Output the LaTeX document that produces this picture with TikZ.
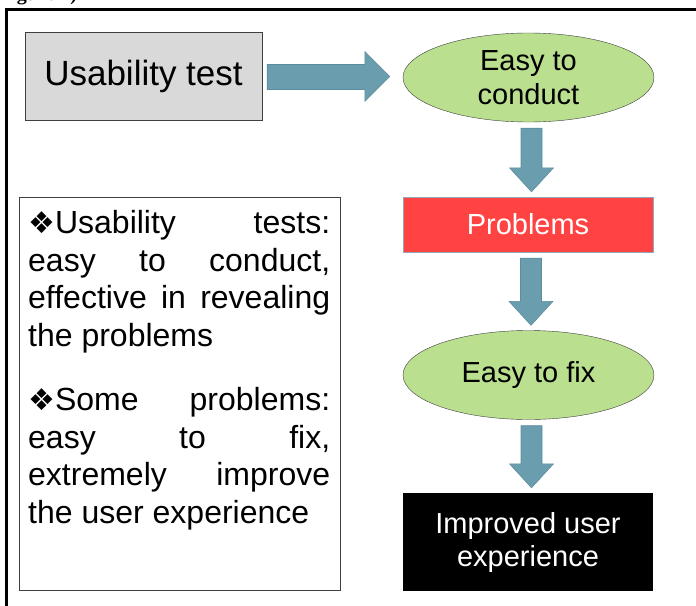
\documentclass[tikz,border=0pt]{standalone}
\usepackage{fontspec}
\setmainfont{Liberation Sans}
\newfontfamily\symfont{DejaVu Sans}
\newfontfamily\capfont{Liberation Serif}
\usepackage{tikz}
\usetikzlibrary{shapes.geometric,calc}
\hbadness=10000
\definecolor{arrowfill}{HTML}{6A9EAE}
\definecolor{arrowline}{HTML}{5B8D9D}
\definecolor{boxgray}{HTML}{D9D9D9}
\definecolor{ellgreen}{HTML}{B9DF8F}
\definecolor{probred}{HTML}{FF4242}
\definecolor{probedge}{HTML}{8EA9B8}
\definecolor{edge}{HTML}{3F3F3F}
\newcommand{\bull}{{\symfont\fontsize{30}{30}\selectfont ❖}}
\newcommand{\rightblock}[2]{%
  \path[blockarr] let \p1=(#1.east), \p2=(#2.west) in
    (\x1+5pt,\y1+11.5pt) -- (\x2-38pt,\y1+11.5pt) -- (\x2-38pt,\y1+24.5pt)
    -- (\x2-13pt,\y1-0.5pt) -- (\x2-38pt,\y1-25.5pt) -- (\x2-38pt,\y1-13.5pt)
    -- (\x1+5pt,\y1-13.5pt) -- cycle;}
\newcommand{\downblock}[2]{%
  \path[blockarr] let \p1=(#1.south), \p2=(#2.north) in
    (\x1-7.5pt,\y1-6pt) -- (\x1+13.5pt,\y1-6pt) -- (\x1+13.5pt,\y2+29pt)
    -- (\x1+25pt,\y2+29pt) -- (\x1+3pt,\y2+5pt) -- (\x1-19pt,\y2+29pt)
    -- (\x1-7.5pt,\y2+29pt) -- cycle;}
\tikzset{
  box/.style={draw=edge,fill=boxgray,minimum width=237pt,minimum height=88pt,
    inner sep=0pt,font=\fontsize{35}{40}\selectfont},
  ell/.style={ellipse,draw=edge,fill=ellgreen,minimum width=251pt,minimum height=89pt,
    inner sep=0pt,align=center,font=\fontsize{29}{33.5}\selectfont},
  probbox/.style={draw=probedge,fill=probred,text=white,minimum width=250pt,
    minimum height=55pt,inner sep=0pt,font=\fontsize{29}{33.5}\selectfont},
  darkbox/.style={fill=black,text=white,minimum width=250pt,minimum height=98pt,
    inner sep=0pt,align=center,font=\fontsize{29}{33}\selectfont},
  notebox/.style={draw=edge,minimum width=321pt,minimum height=393pt,inner sep=0pt},
  notetext/.style={text width=302pt,align=justify,inner sep=0pt,
    font=\fontsize{32}{37.5}\selectfont},
  figcap/.style={inner sep=0pt,font=\capfont\bfseries\fontsize{20}{24}\selectfont},
  blockarr/.style={fill=arrowfill,draw=arrowline,line width=0.6pt},
  frame/.style={draw=black,line width=2.6pt},
}
\begin{document}
\begin{tikzpicture}[x=1pt,y=1pt]
  \useasboundingbox (0,0) rectangle (696,-605);
  \begin{scope}
    \clip (0,0) rectangle (696,-605);
    \node[figcap,anchor=base west] (cap) at (-1,-1) {Figure 1)};
    \draw[frame] (6.5,-620) |- (710,-9.5);
  \end{scope}
  % flow on the right
  \node[box] (test) at (143.5,-76) {Usability test};
  \node[ell] (conduct) at (528.5,-77.5) {Easy to\\conduct};
  \node[probbox] (problems) at (528,-224.5) {Problems};
  \node[ell] (fix) at (528.5,-375) {Easy to fix};
  \node[darkbox] (improved) at (528,-542) {Improved user\\experience};
  \rightblock{test}{conduct}
  \downblock{conduct}{problems}
  \downblock{problems}{fix}
  \downblock{fix}{improved}
  % notes on the left
  \node[notebox] (notes) at (179.5,-393.5) {};
  \node[notetext,anchor=north west] (notetxt) at (28,-207.5) {%
    \strut\bull Usability tests:\linebreak easy to conduct,\linebreak
    effective in revealing\linebreak the problems\par
    \vspace{27pt}
    \strut\bull Some problems:\linebreak easy to fix,\linebreak
    extremely improve\linebreak the user experience};
\end{tikzpicture}
\end{document}
